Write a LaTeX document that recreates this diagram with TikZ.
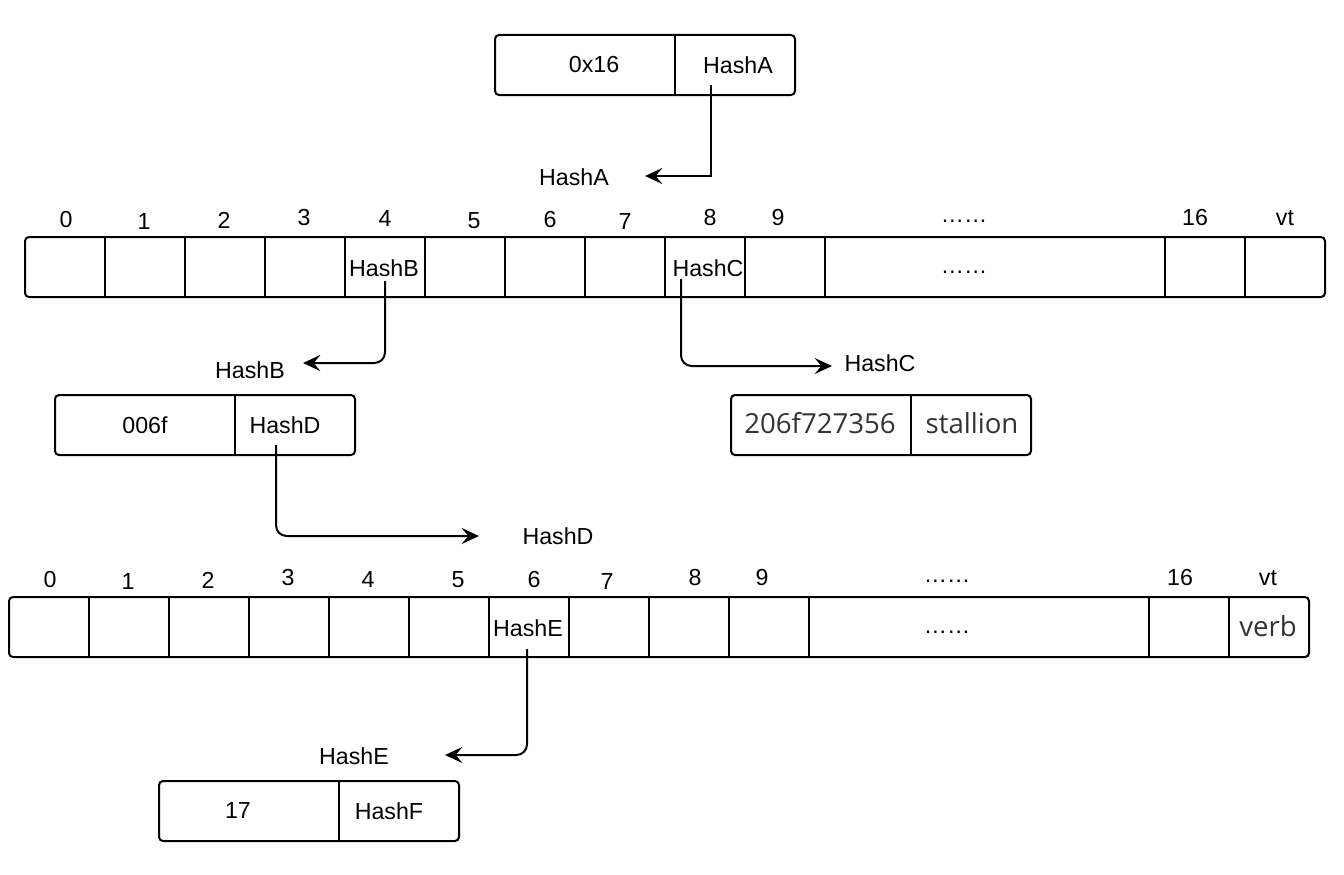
\documentclass[tikz,border=0pt]{standalone}
\usepackage{fontspec}
\setmainfont{Liberation Sans}
\newfontfamily\opensans{Open Sans}
\usetikzlibrary{arrows.meta}
\definecolor{inkgray}{HTML}{333333}

\begin{document}
\begin{tikzpicture}[x=0.75pt,y=-0.75pt,
  every node/.style={inner sep=0pt, outer sep=0pt},
  txt/.style={font=\fontsize{17.4}{20}\selectfont},
  gtxt/.style={font=\opensans\fontsize{20.7}{24}\selectfont, text=inkgray},
  cell/.style={minimum height=45pt},
  frame/.style={draw, line width=1.5pt, rounded corners=3pt},
  sep/.style={draw, line width=1.5pt},
  link/.style={draw, line width=1.5pt, rounded corners=8pt,
    -{Stealth[length=13pt,width=12pt,inset=5pt]}},
]
\useasboundingbox (0,0) rectangle (1344,874);

% ---- top record: 0x16 | HashA
\node[cell, minimum width=135pt] (ra1) at (585,65) {};
\node[cell, minimum width=90pt]  (ra2) at (735,65) {};
\draw[frame] (ra1.north west) rectangle (ra2.south east);
\draw[sep] (ra2.north west) -- (ra2.south west);
\node[txt] (ta1) at (594,65) {0x16};
\node[txt] (ta2) at (738,65) {HashA};

% ---- first branch table
\foreach \n/\l/\r in {0/25/105,1/105/185,2/185/265,3/265/345,4/345/425,
    5/425/505,6/505/585,7/585/665,8/665/745,9/745/825,d/825/1165,
    16/1165/1245,vt/1245/1325}
  \node[cell, minimum width={(\r-\l)*0.75pt}] (p\n) at ({(\l+\r)/2},267) {};
\draw[frame] (p0.north west) rectangle (pvt.south east);
\foreach \n in {1,2,3,4,5,6,7,8,9,d,16,vt}
  \draw[sep] (p\n.north west) -- (p\n.south west);
\foreach \nm/\t/\x/\y in {0/0/66/220,1/1/144/222,2/2/224/220,3/3/304/218,
    4/4/385/219,5/5/474/221,6/6/550/220,7/7/625/222,8/8/710/218,9/9/778/218,
    d/……/964/221,16/16/1195/218,vt/vt/1285/218}
  \node[txt] (ia\nm) at (\x,\y) {\t};
\node[txt] (hb) at (384,268) {HashB};
\node[txt] (hc) at (708,268) {HashC};
\node[txt] (da) at (964,272) {……};

% ---- leaf records
\node[cell, minimum width=135pt] (rb1) at (145,425) {};
\node[cell, minimum width=90pt]  (rb2) at (295,425) {};
\draw[frame] (rb1.north west) rectangle (rb2.south east);
\draw[sep] (rb2.north west) -- (rb2.south west);
\node[txt] (tb1) at (145,425) {006f};
\node[txt] (tb2) at (285,425) {HashD};

\node[cell, minimum width=135pt] (rc1) at (821,425) {};
\node[cell, minimum width=90pt]  (rc2) at (971,425) {};
\draw[frame] (rc1.north west) rectangle (rc2.south east);
\draw[sep] (rc2.north west) -- (rc2.south west);
\node[gtxt] (tc1) at (820,423) {206f727356};
\node[gtxt] (tc2) at (972,423) {stallion};

% ---- second branch table
\foreach \n/\l/\r in {0/9/89,1/89/169,2/169/249,3/249/329,4/329/409,
    5/409/489,6/489/569,7/569/649,8/649/729,9/729/809,d/809/1149,
    16/1149/1229,vt/1229/1309}
  \node[cell, minimum width={(\r-\l)*0.75pt}] (q\n) at ({(\l+\r)/2},627) {};
\draw[frame] (q0.north west) rectangle (qvt.south east);
\foreach \n in {1,2,3,4,5,6,7,8,9,d,16,vt}
  \draw[sep] (q\n.north west) -- (q\n.south west);
\foreach \nm/\t/\x/\y in {0/0/50/580,1/1/128/582,2/2/208/580,3/3/288/578,
    4/4/368/580,5/5/458/580,6/6/534/580,7/7/607/582,8/8/695/578,9/9/762/578,
    d/……/947/581,16/16/1180/578,vt/vt/1268/578}
  \node[txt] (ib\nm) at (\x,\y) {\t};
\node[txt] (he) at (528,628) {HashE};
\node[txt] (db) at (947,632) {……};
\node[gtxt] (vb) at (1268,626) {verb};

% ---- last record
\node[cell, minimum width=135pt] (re1) at (249,811) {};
\node[cell, minimum width=90pt]  (re2) at (399,811) {};
\draw[frame] (re1.north west) rectangle (re2.south east);
\draw[sep] (re2.north west) -- (re2.south west);
\node[txt] (te1) at (238,811) {17};
\node[txt] (te2) at (389,811) {HashF};

% ---- pointer labels
\node[txt] (la) at (574,177) {HashA};
\node[txt] (lb) at (250,370) {HashB};
\node[txt] (lc) at (880,363) {HashC};
\node[txt] (ld) at (558,536) {HashD};
\node[txt] (le) at (354,756) {HashE};

% ---- pointer ends
\coordinate (sa) at (711,85);   \coordinate (ea) at (645,176);
\coordinate (sb) at (385,281);  \coordinate (eb) at (303,363);
\coordinate (sc) at (681,279);  \coordinate (ec) at (832,366);
\coordinate (sd) at (276,445);  \coordinate (ed) at (479,536);
\coordinate (se) at (527,649);  \coordinate (ee) at (445,755);

% ---- pointers
\draw[link, rounded corners=0pt] (sa) |- (ea);
\draw[link] (sb) |- (eb);
\draw[link] (sc) |- (ec);
\draw[link] (sd) |- (ed);
\draw[link] (se) |- (ee);
\end{tikzpicture}
\end{document}
